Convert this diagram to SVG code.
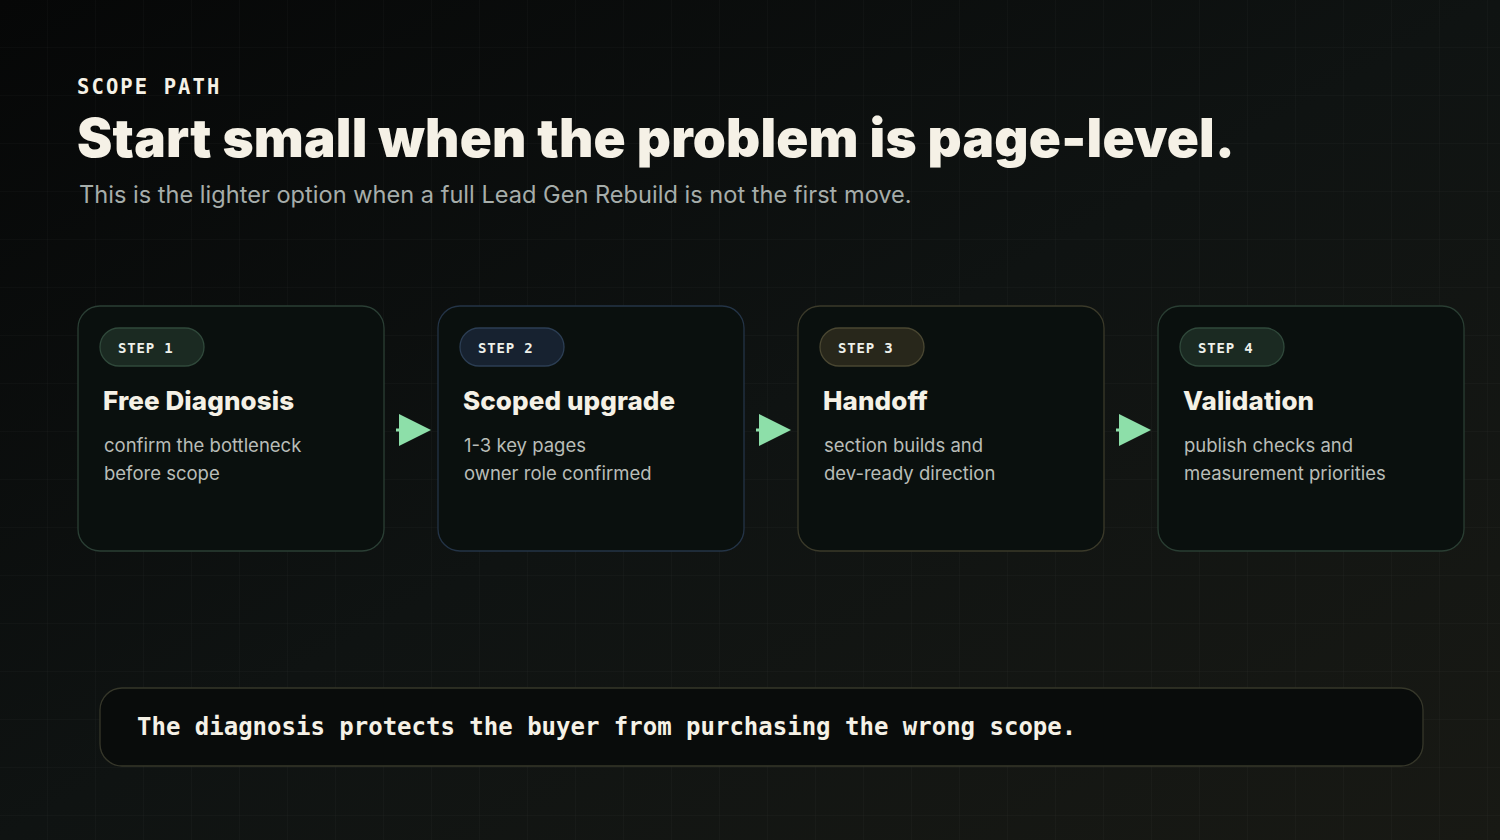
<svg xmlns="http://www.w3.org/2000/svg" width="1500" height="840" viewBox="0 0 1500 840">
  <defs>
    <linearGradient id="bg" x1="0" y1="0" x2="1" y2="1">
      <stop offset="0" stop-color="#060707"/>
      <stop offset="0.5" stop-color="#0f1312"/>
      <stop offset="1" stop-color="#181914"/>
    </linearGradient>
    <pattern id="grid" width="48" height="48" patternUnits="userSpaceOnUse">
      <path d="M48 0V48M0 48H48" fill="none" stroke="#ffffff" stroke-opacity="0.035" stroke-width="1"/>
    </pattern>
    <marker id="arrow" viewBox="0 0 32 32" refX="2" refY="16" markerWidth="32" markerHeight="32" markerUnits="userSpaceOnUse" orient="auto">
      <path d="M0 0L32 16L0 32Z" fill="#8ddfa9"/>
    </marker>
    <style>
      .card { fill: #0a100e; stroke-width: 1.3; }
      .pill { stroke-width: 1.3; }
      .step { font-family: "DejaVu Sans Mono", "Liberation Mono", monospace; font-weight: 700; font-size: 14px; letter-spacing: 0.8px; fill: #eef0ea; }
      .title { font-family: Inter, "Liberation Sans", sans-serif; font-weight: 800; font-size: 26px; fill: #f5f1e6; letter-spacing: 0.1px; }
      .body { font-family: Inter, "Liberation Sans", sans-serif; font-weight: 400; font-size: 18.5px; fill: #b9bdb8; }
      .conn { stroke: #8ddfa9; stroke-width: 3; fill: none; }
    </style>
  </defs>
  <rect width="1500" height="840" fill="url(#bg)"/>
  <rect width="1500" height="840" fill="url(#grid)"/>

  <g id="header">
    <text x="77" y="94" font-family="DejaVu Sans Mono, Liberation Mono, monospace" font-weight="700" font-size="20.5" letter-spacing="2.1" fill="#f5f1e6">SCOPE PATH</text>
    <text x="77" y="157" font-family="Inter, Liberation Sans, sans-serif" font-weight="900" font-size="53" letter-spacing="0.2" fill="#f5f1e6">Start small when the problem is page-level.</text>
    <text x="79" y="203" font-family="Inter, Liberation Sans, sans-serif" font-weight="400" font-size="23.6" fill="#a6adaa">This is the lighter option when a full Lead Gen Rebuild is not the first move.</text>
  </g>

  <g id="step1">
    <rect class="card" x="78" y="306" width="306" height="245" rx="22" stroke="#2b3f35"/>
    <rect class="pill" x="100" y="328" width="104" height="38" rx="19" fill="#1b2a22" stroke="#30493b"/>
    <text class="step" x="118" y="353">STEP 1</text>
    <text class="title" x="103" y="410">Free Diagnosis</text>
    <text class="body" x="104" y="452">confirm the bottleneck</text>
    <text class="body" x="104" y="480">before scope</text>
  </g>
  <g id="step2">
    <rect class="card" x="438" y="306" width="306" height="245" rx="22" stroke="#243447"/>
    <rect class="pill" x="460" y="328" width="104" height="38" rx="19" fill="#172230" stroke="#2c3e54"/>
    <text class="step" x="478" y="353">STEP 2</text>
    <text class="title" x="463" y="410">Scoped upgrade</text>
    <text class="body" x="464" y="452">1-3 key pages</text>
    <text class="body" x="464" y="480">owner role confirmed</text>
  </g>
  <g id="step3">
    <rect class="card" x="798" y="306" width="306" height="245" rx="22" stroke="#3b3a2a"/>
    <rect class="pill" x="820" y="328" width="104" height="38" rx="19" fill="#28271b" stroke="#4a4732"/>
    <text class="step" x="838" y="353">STEP 3</text>
    <text class="title" x="823" y="410">Handoff</text>
    <text class="body" x="824" y="452">section builds and</text>
    <text class="body" x="824" y="480">dev-ready direction</text>
  </g>
  <g id="step4">
    <rect class="card" x="1158" y="306" width="306" height="245" rx="22" stroke="#2a3e33"/>
    <rect class="pill" x="1180" y="328" width="104" height="38" rx="19" fill="#1b2a22" stroke="#30493b"/>
    <text class="step" x="1198" y="353">STEP 4</text>
    <text class="title" x="1183" y="410">Validation</text>
    <text class="body" x="1184" y="452">publish checks and</text>
    <text class="body" x="1184" y="480">measurement priorities</text>
  </g>

  <g id="connectors">
    <line class="conn" x1="396" y1="430" x2="401" y2="430" marker-end="url(#arrow)"/>
    <line class="conn" x1="756" y1="430" x2="761" y2="430" marker-end="url(#arrow)"/>
    <line class="conn" x1="1116" y1="430" x2="1121" y2="430" marker-end="url(#arrow)"/>
  </g>

  <g id="footer">
    <rect x="100" y="688" width="1323" height="78" rx="22" fill="#090c0b" stroke="#36372a" stroke-width="1.3"/>
    <text x="137" y="735" font-family="DejaVu Sans Mono, Liberation Mono, monospace" font-weight="700" font-size="24" fill="#f5f1e6">The diagnosis protects the buyer from purchasing the wrong scope.</text>
  </g>
</svg>
